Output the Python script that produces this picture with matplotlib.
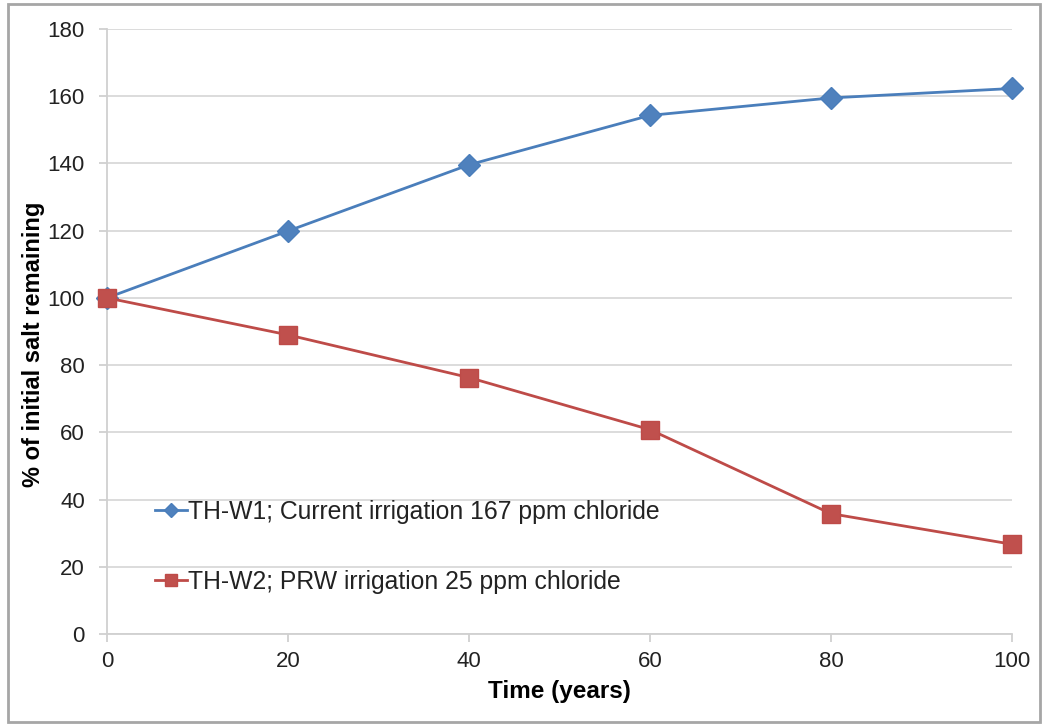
import matplotlib
matplotlib.use('Agg')
import matplotlib.pyplot as plt
from matplotlib.lines import Line2D
from matplotlib.patches import Rectangle

years = [0, 20, 40, 60, 80, 100]
th_w1 = [100, 119.9, 139.6, 154.3, 159.5, 162.3]
th_w2 = [100, 89.0, 76.3, 60.8, 35.8, 26.7]
label_w1 = 'TH-W1; Current irrigation 167 ppm chloride'
label_w2 = 'TH-W2; PRW irrigation 25 ppm chloride'

plt.rcParams['font.family'] = ['Liberation Sans', 'DejaVu Sans']

fig = plt.figure(figsize=(10.44, 7.24), dpi=100)
ax = fig.add_axes([107/1044, 90/724, 905/1044, 605/724])

blue = '#4a7ebb'
red = '#be4b48'
ax.plot(years, th_w1, color=blue, linewidth=2, marker='D', markersize=11,
        markerfacecolor='#4f81bd', markeredgecolor='#4a7ebb', zorder=3,
        clip_on=False)
ax.plot(years, th_w2, color=red, linewidth=2, marker='s', markersize=13,
        markerfacecolor='#c0504d', markeredgecolor='#be4b48', zorder=3,
        clip_on=False)

ax.set_xlim(0, 100)
ax.set_ylim(0, 180)
ax.set_xticks(years)
ax.set_yticks(range(0, 181, 20))
ax.yaxis.grid(True, color='#d9d9d9', linewidth=1.3)
ax.set_axisbelow(True)
for s in ['top', 'right']:
    ax.spines[s].set_visible(False)
for s in ['left', 'bottom']:
    ax.spines[s].set_color('#d0d0d0')
    ax.spines[s].set_linewidth(1.3)
ax.tick_params(axis='both', colors='#d0d0d0', labelcolor='#222222',
               labelsize=16, length=6, width=1.3, direction='out')
ax.tick_params(axis='y', pad=10)
ax.tick_params(axis='x', pad=6)

ax.set_xlabel('Time (years)', fontsize=17.5, fontweight='bold', labelpad=6)
ax.set_ylabel('% of initial salt remaining', fontsize=17, fontweight='bold')
ax.yaxis.set_label_coords(-0.069, 0.478)

handles = [
    Line2D([], [], color=blue, linewidth=2, marker='D', markersize=7,
           markerfacecolor='#4f81bd', markeredgecolor='#4a7ebb'),
    Line2D([], [], color=red, linewidth=2, marker='s', markersize=9,
           markerfacecolor='#c0504d', markeredgecolor='#be4b48'),
]
leg = ax.legend(handles, [label_w1, label_w2], loc='lower left',
                bbox_to_anchor=(0.028, 0.03), frameon=False, fontsize=17.8,
                handlelength=1.3, handletextpad=0.05, labelspacing=1.85)
for t in leg.get_texts():
    t.set_color('#222222')

fig.patches.append(Rectangle((8/1044, 2/724), 1032/1044, 718/724,
                             transform=fig.transFigure, fill=False,
                             edgecolor='#a6a6a6', linewidth=2))

fig.savefig('out.png', dpi=100)
